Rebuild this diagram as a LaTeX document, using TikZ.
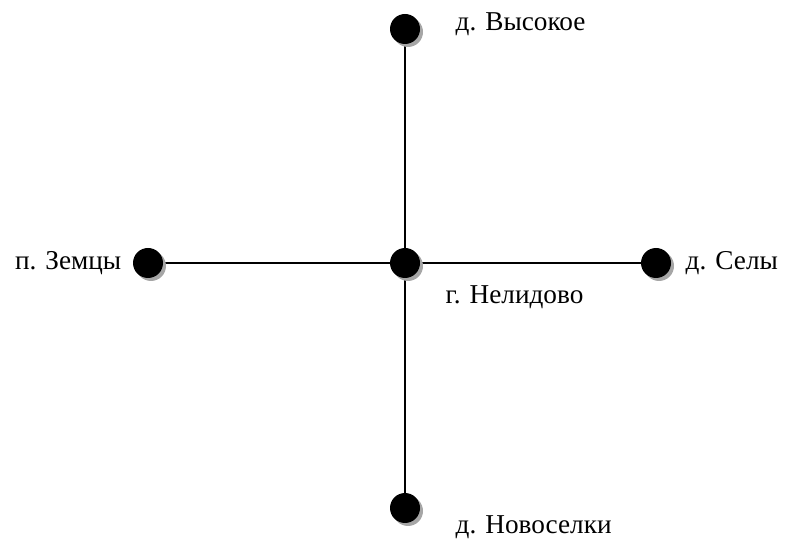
\documentclass[tikz,border=0pt]{standalone}
\usepackage{fontspec}
\setmainfont{Liberation Serif}
\usetikzlibrary{positioning,shadows,backgrounds}

\begin{document}
\begin{tikzpicture}[x=0.02cm, y=0.02cm, font=\fontsize{15.5}{18}\selectfont,
      town/.style={circle, fill=black, minimum size=0.6cm, inner sep=0pt,
                   drop shadow={shadow xshift=0.06cm, shadow yshift=-0.06cm,
                                fill=black!35, opacity=1}},
      lbl/.style={inner sep=0pt},
      road/.style={line width=0.8pt}]
    \useasboundingbox (0,0) rectangle (786,540);
    % settlements
    \node[town] (ctr) at (405,277) {};
    \node[town] (top) at (405,511) {};
    \node[town] (bot) at (405,32) {};
    \node[town] (zem) at (148,277) {};
    \node[town] (sel) at (656,277) {};
    % names
    \node[lbl, right=0.7cm of top, yshift=0.1cm] (topname) {д. Высокое};
    \node[lbl, right=0.5cm of ctr, yshift=-0.68cm] (ctrname) {г. Нелидово};
    \node[lbl, right=0.7cm of bot, yshift=-0.38cm] (botname) {д. Новоселки};
    \node[lbl, left=0.22cm of zem] (zemname) {п. Земцы};
    \node[lbl, right=0.28cm of sel] (selname) {д. Селы};
    % roads
    \begin{scope}[on background layer]
      \draw[road] (top.center) -- (ctr.center) -- (bot.center);
      \draw[road] (zem.center) -- (ctr.center) -- (sel.center);
    \end{scope}
  \end{tikzpicture}
\end{document}
